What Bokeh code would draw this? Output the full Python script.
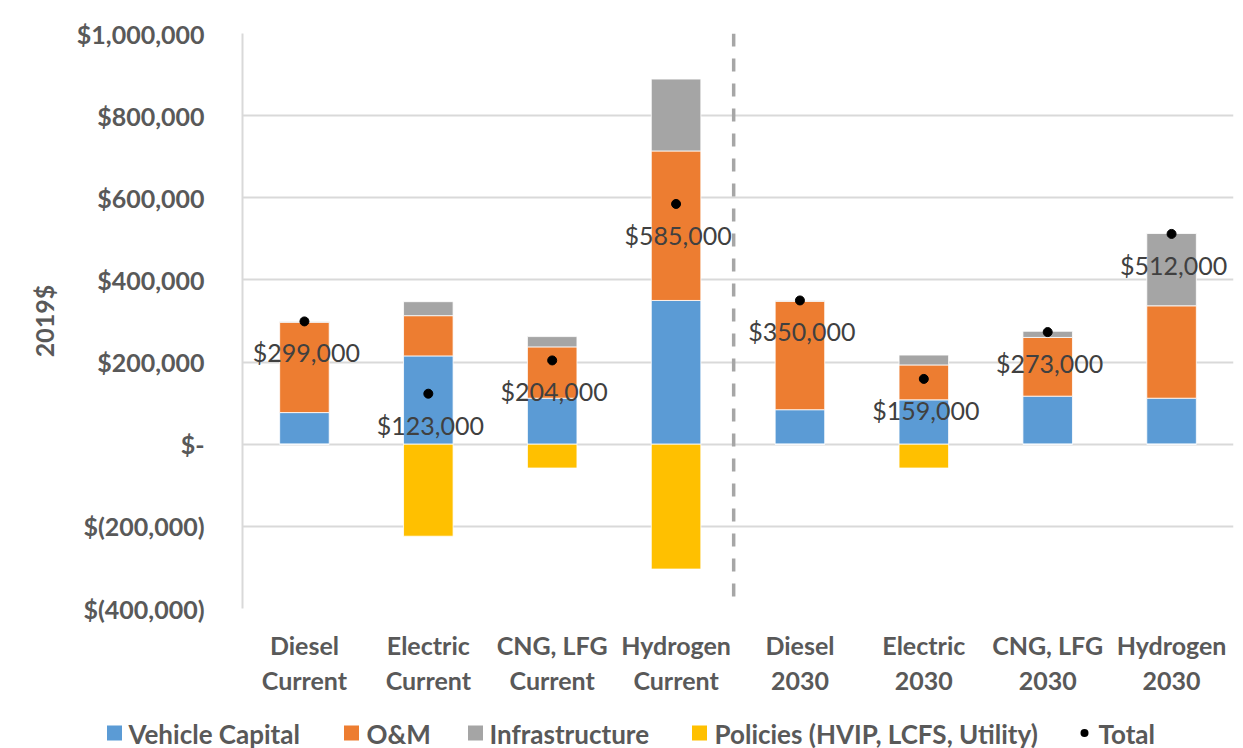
from bokeh.plotting import figure
from bokeh.layouts import column
from bokeh.models import ColumnDataSource, FactorRange, FixedTicker, Span
from bokeh.core.properties import value
from bokeh.embed import file_html
from bokeh.resources import INLINE

# ---- data ----
fuels = ["Diesel", "Electric", "CNG, LFG", "Hydrogen", "Diesel", "Electric", "CNG, LFG", "Hydrogen"]
periods = ["Current", "Current", "Current", "Current", "2030", "2030", "2030", "2030"]
vehicle_capital = [77000, 215000, 112000, 350000, 84000, 108000, 117000, 112000]
om = [220000, 98000, 125000, 364000, 264000, 85000, 143000, 225000]
infrastructure = [2000, 34000, 25000, 175000, 2000, 24000, 15000, 176000]
policies = [0, -224000, -58000, -304000, 0, -58000, 0, 0]
totals = [299000, 123000, 204000, 585000, 350000, 159000, 273000, 512000]
y_ticks = [-400000, -200000, 0, 200000, 400000, 600000, 800000, 1000000]
series_names = ["Vehicle Capital", "O&M", "Infrastructure", "Policies (HVIP, LCFS, Utility)", "Total"]
colors = ["#5B9BD5", "#ED7D31", "#A5A5A5", "#FFC000"]

# legend layout (pixel positions of swatches / labels in the legend strip)
legend_swatch_x = [114, 351, 475, 699, 1084]
legend_text_x = [128, 366, 489, 714, 1098]

categories = [f"{f}\n{q}" for f, q in zip(fuels, periods)]


def money(v):
    if v == 0:
        return "$-"
    if v < 0:
        return "$(" + f"{-v:,.0f}" + ")"
    return "$" + f"{v:,.0f}"


FONT = "Lato"
GRAY = "#595959"

src = ColumnDataSource(dict(
    cat=categories, cap=vehicle_capital, om=om, infra=infrastructure,
    pol=policies, zero=[0] * len(categories), total=totals,
    label=[money(t) for t in totals],
))

p = figure(x_range=FactorRange(*categories, range_padding=0), y_range=(-400000, 1000000),
           width=1243, height=710, output_backend="svg", toolbar_location=None,
           min_border_left=242, min_border_right=10, min_border_top=33, min_border_bottom=102)
p.frame_align = False
p.outline_line_color = None
p.background_fill_color = "white"
p.border_fill_color = "white"

r_stack = p.vbar_stack(["cap", "om", "infra"], x="cat", width=0.4, source=src,
                       color=colors[:3], line_color="white", line_width=0.8)
r_pol = p.vbar(x="cat", top="zero", bottom="pol", width=0.4, source=src,
               fill_color=colors[3], line_color="white", line_width=0.8)

r_tot = p.scatter(x="cat", y="total", source=src, size=9, color="black")
p.text(x="cat", y="total", text="label", source=src, text_align="center", text_baseline="middle",
       y_offset=31, x_offset=2, text_font=value(FONT), text_font_size="25px", text_color="#404040")

divider = Span(location=3.965, dimension="height", line_color="#A6A6A6", line_width=3.5,
               line_dash="13 12")
p.add_layout(divider)

p.yaxis.ticker = FixedTicker(ticks=y_ticks)
p.yaxis.major_label_overrides = {t: money(t) for t in y_ticks}
p.yaxis.axis_label = "2019$"
for ax in (p.xaxis[0], p.yaxis[0]):
    ax.major_label_text_font = FONT
    ax.major_label_text_font_style = "bold"
    ax.major_label_text_font_size = "25px"
    ax.major_label_text_color = GRAY
    ax.major_tick_line_color = None
    ax.minor_tick_line_color = None
    ax.major_tick_out = 0
    ax.major_tick_in = 0
p.yaxis.axis_line_color = "#D9D9D9"
p.yaxis.axis_line_width = 2
p.yaxis.major_label_standoff = 38
p.yaxis.axis_label_text_font = FONT
p.yaxis.axis_label_text_font_style = "bold"
p.yaxis.axis_label_text_font_size = "25px"
p.yaxis.axis_label_text_color = GRAY
p.yaxis.axis_label_standoff = 15
p.xaxis.axis_line_color = None
p.xaxis.major_label_standoff = 21
p.xaxis.major_label_text_line_height = 1.17

p.xgrid.grid_line_color = None
p.ygrid.grid_line_color = "#D9D9D9"
p.ygrid.grid_line_width = 2

# ---- legend strip below the chart ----
pl = figure(width=1243, height=38, output_backend="svg", toolbar_location=None,
            x_range=(0, 1243), y_range=(0, 38), x_axis_location=None, y_axis_location=None,
            min_border=0)
pl.frame_align = False
pl.outline_line_color = None
pl.xgrid.visible = False
pl.ygrid.visible = False
leg = ColumnDataSource(dict(
    sx=legend_swatch_x, tx=legend_text_x, y=[15.5] * len(series_names),
    ty=[15] * len(series_names), name=series_names,
    color=colors + ["black"], marker=["square"] * len(colors) + ["circle"],
    size=[15] * len(colors) + [8],
))
pl.scatter(x="sx", y="y", marker="marker", size="size", fill_color="color", line_color=None,
           source=leg)
pl.text(x="tx", y="ty", text="name", source=leg, text_align="left", text_baseline="middle",
        text_font=value(FONT), text_font_style="bold", text_font_size="26px", text_color=GRAY)

layout = column(p, pl, spacing=0)
open("out.html", "w").write(file_html(layout, INLINE))
